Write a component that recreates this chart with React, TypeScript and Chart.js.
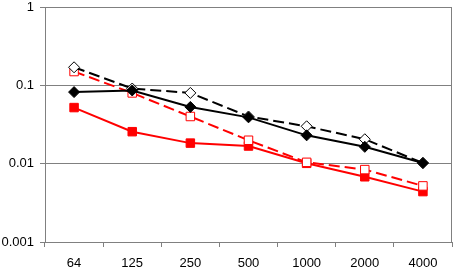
import React, { useEffect, useRef } from "react";
import { Chart, registerables } from "chart.js";

Chart.register(...registerables);

const categories = ["64", "125", "250", "500", "1000", "2000", "4000"];
const blackSolid = [0.082, 0.086, 0.053, 0.039, 0.023, 0.0164, 0.0102];
const blackDashed = [0.17, 0.091, 0.08, 0.04, 0.03, 0.0205, 0.0102];
const redDashed = [0.15, 0.08, 0.04, 0.0199, 0.0104, 0.0084, 0.0052];
const redSolid = [0.052, 0.0256, 0.0183, 0.0168, 0.0101, 0.0068, 0.0044];
const yTickValues = [0.001, 0.01, 0.1, 1];
const yTickLabels = ["0.001", "0.01", "0.1", "1"];

const GRAY = "#808080";
const FONT = { family: "'Liberation Sans', Arial, sans-serif", size: 13 };

const frame = {
  id: "frame",
  beforeDatasetsDraw(chart: any) {
    const { ctx, chartArea } = chart;
    ctx.save();
    ctx.strokeStyle = GRAY;
    ctx.lineWidth = 1;
    ctx.strokeRect(
      Math.round(chartArea.left) + 0.5,
      Math.round(chartArea.top) + 0.5,
      Math.round(chartArea.right - chartArea.left) - 1,
      Math.round(chartArea.bottom - chartArea.top)
    );
    ctx.restore();
  },
};

export default function App() {
  const ref = useRef<HTMLCanvasElement>(null);
  useEffect(() => {
    if (!ref.current) return;
    const chart = new Chart(ref.current, {
      type: "line",
      data: {
        labels: categories,
        datasets: [
          {
            data: blackSolid,
            borderColor: "#000",
            backgroundColor: "#000",
            borderWidth: 2,
            pointStyle: "rectRot",
            pointRadius: 5.5,
            pointBorderWidth: 1,
            pointBackgroundColor: "#000",
            pointBorderColor: "#000",
          },
          {
            data: blackDashed,
            borderColor: "#000",
            borderWidth: 2,
            borderDash: [11, 5],
            pointStyle: "rectRot",
            pointRadius: 5.5,
            pointBorderWidth: 1,
            pointBackgroundColor: "#fff",
            pointBorderColor: "#000",
          },
          {
            data: redDashed,
            borderColor: "#ff0000",
            borderWidth: 2,
            borderDash: [11, 5],
            pointStyle: "rect",
            pointRadius: 6,
            pointBorderWidth: 1,
            pointBackgroundColor: "#fff",
            pointBorderColor: "#ff0000",
          },
          {
            data: redSolid,
            borderColor: "#ff0000",
            borderWidth: 2,
            pointStyle: "rect",
            pointRadius: 6,
            pointBorderWidth: 1,
            pointBackgroundColor: "#ff0000",
            pointBorderColor: "#ff0000",
          },
        ],
      },
      options: {
        animation: false,
        responsive: true,
        maintainAspectRatio: false,
        layout: { padding: { top: 6, right: 1, left: 0, bottom: 0 } },
        plugins: { legend: { display: false }, tooltip: { enabled: false } },
        scales: {
          x: {
            type: "category",
            offset: true,
            grid: {
              offset: true,
              drawOnChartArea: false,
              drawTicks: true,
              tickLength: 5,
              color: GRAY,
            },
            border: { color: GRAY },
            ticks: { font: FONT, color: "#000", padding: 9, maxRotation: 0, autoSkip: false },
            afterFit(scale: any) {
              scale.height = 26;
              scale.paddingLeft = 0;
              scale.paddingRight = 0;
            },
          },
          y: {
            type: "logarithmic",
            min: 0.001,
            max: 1,
            grid: { color: GRAY, tickLength: 5, drawTicks: true },
            border: { color: GRAY },
            ticks: {
              font: FONT,
              color: "#000",
              padding: 6,
              callback: (v: any) => {
                const i = yTickValues.findIndex((t) => Math.abs(t - v) < t * 1e-6);
                return i >= 0 ? yTickLabels[i] : "";
              },
            },
            afterBuildTicks(scale: any) {
              scale.ticks = yTickValues.map((v) => ({ value: v }));
            },
            afterFit(scale: any) {
              scale.width = 45;
              scale.paddingTop = 0;
              scale.paddingBottom = 0;
            },
          },
        },
      },
      plugins: [frame],
    } as any);
    return () => chart.destroy();
  }, []);
  return (
    <div style={{ position: "absolute", left: 0, top: 0, width: 459, height: 268, background: "#fff" }}>
      <canvas ref={ref} />
    </div>
  );
}
